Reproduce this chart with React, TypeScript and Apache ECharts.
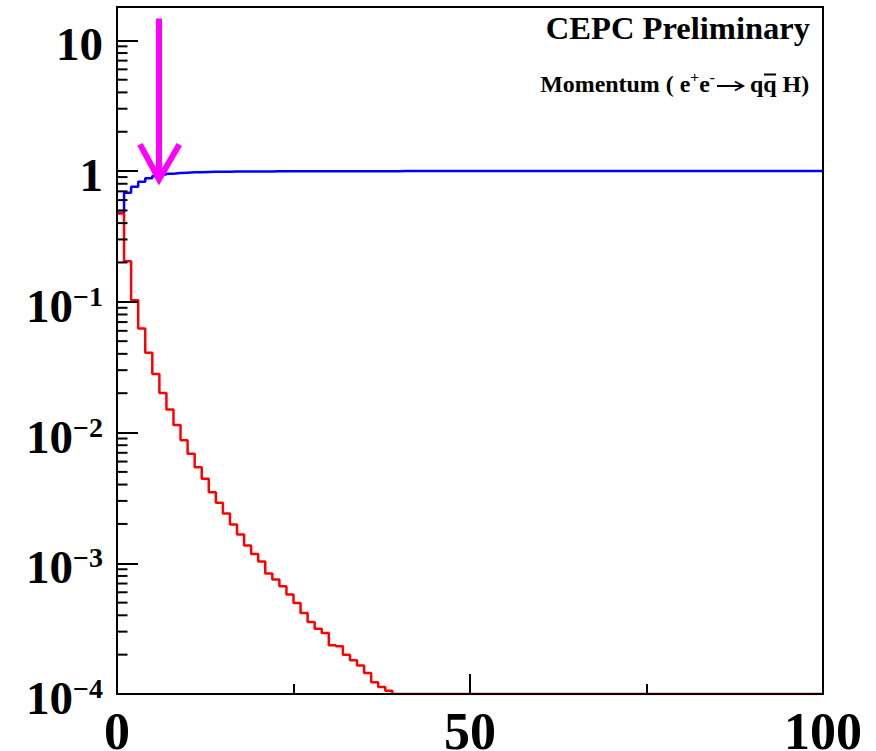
import React, { useEffect, useRef } from 'react';
import * as echarts from 'echarts';

const FONT = 'Liberation Serif, Times New Roman, serif';

const X_MIN = 0;
const X_MAX = 100;
const X_INTERVAL = 50;
const Y_MIN = 1e-4;
const Y_MAX = 18;

// histogram bin lower edges are 0,1,2,...,99 (1 GeV bins)
const BIN_WIDTH = 1;

const RED_VALUES = [
  0.474, 0.204, 0.103, 0.0625, 0.0407, 0.0281, 0.0201, 0.015, 0.0114, 0.00873,
  0.00687, 0.00543, 0.00443, 0.00349, 0.0029, 0.0024, 0.00198, 0.00166, 0.00137, 0.00118,
  0.00103, 0.000834, 0.00075, 0.000667, 0.000576, 0.000497, 0.000417, 0.000356, 0.000316, 0.000293,
  0.000236, 0.000232, 0.0002, 0.000181, 0.000165, 0.000145, 0.000123, 0.000113, 0.000106, 0,
  0, 0, 0, 0, 0, 0, 0, 0, 0, 0,
  0, 0, 0, 0, 0, 0, 0, 0, 0, 0,
  0, 0, 0, 0, 0, 0, 0, 0, 0, 0,
  0, 0, 0, 0, 0, 0, 0, 0, 0, 0,
  0, 0, 0, 0, 0, 0, 0, 0, 0, 0,
  0, 0, 0, 0, 0, 0, 0, 0, 0, 0,
];

const BLUE_VALUES = [
  0.48, 0.684, 0.76, 0.83, 0.88, 0.916, 0.94, 0.956, 0.966, 0.973,
  0.978, 0.982, 0.985, 0.987, 0.989, 0.99, 0.991, 0.992, 0.993, 0.994,
  0.995, 0.995, 0.996, 0.996, 0.997, 0.997, 0.997, 0.998, 0.998, 0.998,
  0.998, 0.998, 0.999, 0.999, 0.999, 0.999, 0.999, 0.999, 0.999, 0.999,
  1, 1, 1, 1, 1, 1, 1, 1, 1, 1,
  1, 1, 1, 1, 1, 1, 1, 1, 1, 1,
  1, 1, 1, 1, 1, 1, 1, 1, 1, 1,
  1, 1, 1, 1, 1, 1, 1, 1, 1, 1,
  1, 1, 1, 1, 1, 1, 1, 1, 1, 1,
  1, 1, 1, 1, 1, 1, 1, 1, 1, 1,
];

const Y_TICK_EXPONENTS = [-4, -3, -2, -1, 0, 1];
const Y_TICK_LABELS = ['{b|10}{s|−4}', '{b|10}{s|−3}', '{b|10}{s|−2}', '{b|10}{s|−1}', '{b|1}', '{b|10}'];
const Y_MINOR_MANTISSAS = [2, 3, 4, 5, 6, 7, 8, 9];
const Y_MINOR_DECADES = [1e-4, 1e-3, 1e-2, 1e-1, 1];

// arrow (cut position)
const ARROW_X = 5.95;
const ARROW_TOP = 14.7;
const ARROW_TIP = 0.864;
const ARROW_WING_LEFT_X = 3.26;
const ARROW_WING_RIGHT_X = 8.82;
const ARROW_WING_Y = 1.6;

const TITLE = 'CEPC Preliminary';
const SUBTITLE_LEFT = '{n|Momentum ( e}{s|+}{n|e}{s|-}';
const SUBTITLE_RIGHT = '{n|qq H)}';

function histPoints(values: number[]) {
  const pts: number[][] = [];
  values.forEach((v, i) => {
    pts.push([i * BIN_WIDTH, v > 0 ? v : Y_MIN]);
  });
  const last = values[values.length - 1];
  pts.push([values.length * BIN_WIDTH, last > 0 ? last : Y_MIN]);
  return pts;
}

export default function App() {
  const ref = useRef<HTMLDivElement>(null);
  useEffect(() => {
    document.body.style.margin = '0';
    if (!ref.current) return;
    const chart = echarts.init(ref.current, undefined, { renderer: 'svg' });
    const minorTicks: number[][] = [];
    Y_MINOR_DECADES.forEach((d) => Y_MINOR_MANTISSAS.forEach((m) => minorTicks.push([0, m * d])));

    const subRich = {
      n: { fontSize: 23, fontWeight: 'bold', fontFamily: FONT, fill: '#000' },
      s: { fontSize: 15, fontWeight: 'bold', fontFamily: FONT, fill: '#000', padding: [0, 0, 14, 0] },
    };

    chart.setOption({
      animation: false,
      backgroundColor: '#fff',
      textStyle: { fontFamily: FONT },
      grid: {
        left: 117, top: 7, right: 53, bottom: 57, z: 6,
        containLabel: false, outerBoundsMode: 'none',
        show: true, borderColor: '#000', borderWidth: 2, backgroundColor: 'transparent',
      },
      xAxis: {
        type: 'value', min: X_MIN, max: X_MAX, interval: X_INTERVAL, z: 6,
        axisLine: { show: true, lineStyle: { color: '#000', width: 2 } },
        axisTick: { show: true, inside: true, length: 20, lineStyle: { color: '#000', width: 2 } },
        minorTick: { show: true, splitNumber: 2, length: 10, lineStyle: { color: '#000', width: 2 } },
        splitLine: { show: false },
        axisLabel: { margin: 11, fontSize: 52, fontWeight: 'bold', color: '#000', fontFamily: FONT },
      },
      yAxis: {
        type: 'log', logBase: 10, min: Y_MIN, max: Y_MAX, z: 6,
        axisLine: { show: true, lineStyle: { color: '#000', width: 2 } },
        axisTick: { show: true, inside: true, length: 21, lineStyle: { color: '#000', width: 2 } },
        splitLine: { show: false },
        axisLabel: {
          margin: 14,
          padding: [8, 0, 0, 0],
          formatter: (v: number) => {
            const l = Math.log10(v);
            const e = Math.round(l);
            if (Math.abs(l - e) > 1e-6) return '';
            const idx = Y_TICK_EXPONENTS.indexOf(e);
            return idx >= 0 ? Y_TICK_LABELS[idx] : '';
          },
          rich: {
            b: { fontSize: 47, fontWeight: 'bold', color: '#000', fontFamily: FONT },
            s: { fontSize: 28, fontWeight: 'bold', color: '#000', fontFamily: FONT, verticalAlign: 'top' },
          },
        },
      },
      series: [
        {
          type: 'line', step: 'end', data: histPoints(BLUE_VALUES), symbol: 'none',
          lineStyle: { color: '#0000ff', width: 2.5 }, z: 2, silent: true,
        },
        {
          type: 'line', step: 'end', data: histPoints(RED_VALUES), symbol: 'none',
          lineStyle: { color: '#ff0000', width: 2.5 }, z: 3, silent: true,
        },
        {
          type: 'custom', coordinateSystem: 'cartesian2d', data: minorTicks, silent: true, z: 7,
          renderItem: (params: any, api: any) => {
            const p = api.coord([api.value(0), api.value(1)]);
            return {
              type: 'line',
              shape: { x1: p[0], y1: p[1], x2: p[0] + 10.5, y2: p[1] },
              style: { stroke: '#000', lineWidth: 2 },
            };
          },
        },
        {
          type: 'line', data: [[ARROW_X, ARROW_TOP], [ARROW_X, ARROW_TIP]], symbol: 'none',
          lineStyle: { color: '#ff00ff', width: 6, cap: 'butt' }, z: 5, silent: true,
        },
        {
          type: 'line',
          data: [[ARROW_WING_LEFT_X, ARROW_WING_Y], [ARROW_X, ARROW_TIP], [ARROW_WING_RIGHT_X, ARROW_WING_Y]],
          symbol: 'none',
          lineStyle: { color: '#ff00ff', width: 6, cap: 'butt', join: 'miter' }, z: 5, silent: true,
        },
      ],
      graphic: [
        {
          type: 'text', x: 810, y: 29, scaleX: 1.05, z: 10,
          style: {
            text: TITLE, font: 'bold 31px ' + FONT, fill: '#000',
            align: 'right', verticalAlign: 'middle', textAlign: 'right', textVerticalAlign: 'middle',
          },
        },
        {
          type: 'text', x: 715, y: 84, scaleX: 1.04, z: 10,
          style: {
            text: SUBTITLE_LEFT,
            align: 'right', verticalAlign: 'middle', textAlign: 'right', textVerticalAlign: 'middle',
            rich: subRich,
          },
        },
        {
          type: 'text', x: 750, y: 84, scaleX: 1.04, z: 10,
          style: {
            text: SUBTITLE_RIGHT,
            align: 'left', verticalAlign: 'middle', textAlign: 'left', textVerticalAlign: 'middle',
            rich: subRich,
          },
        },
        // reaction arrow "→"
        {
          type: 'line', z: 10,
          shape: { x1: 717, y1: 86, x2: 742, y2: 86 },
          style: { stroke: '#000', lineWidth: 2 },
        },
        {
          type: 'polyline', z: 10,
          shape: { points: [[735, 81.5], [743, 86], [735, 90.5]] },
          style: { stroke: '#000', lineWidth: 2, fill: 'none' },
        },
        // anti-quark bar
        {
          type: 'line', z: 10,
          shape: { x1: 764, y1: 74.5, x2: 776, y2: 74.5 },
          style: { stroke: '#000', lineWidth: 2 },
        },
      ],
    });
    return () => chart.dispose();
  }, []);
  return <div ref={ref} style={{ position: 'fixed', left: 0, top: 0, width: 876, height: 751 }} />;
}
